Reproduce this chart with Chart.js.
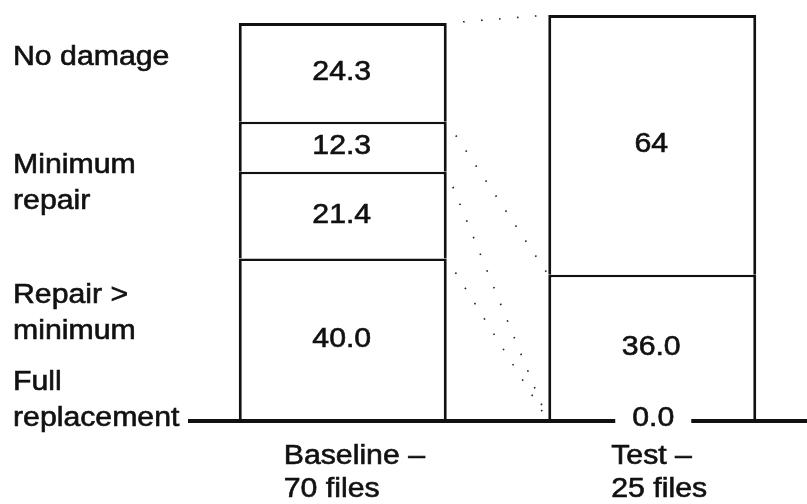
<!DOCTYPE html>
<html>
<head>
<meta charset="utf-8">
<script src="https://cdn.jsdelivr.net/npm/chart.js@4/dist/chart.umd.min.js"></script>
<style>
  html, body { margin: 0; padding: 0; background: #fff; }
  canvas { display: block; }
</style>
</head>
<body>
<canvas id="c" width="807" height="504"></canvas>
<script>
// Two claim-file groups, each split by damage outcome (percent of files)
const groups = [['Baseline –', '70 files'], ['Test –', '25 files']];
const outcomeNames = [['Full', 'replacement'], ['Repair >', 'minimum'], ['Minimum', 'repair'], ['No damage']];

// Stack order, bottom to top
const fullReplacement   = [40.0, 0.0];
const repairOverMinimum = [21.4, null];
const minimumRepair     = [12.3, 36.0];
const noDamage          = [24.3, 64];

// Decimal places printed in each segment's value label
const printedDecimals = [[1, 1], [1, null], [1, 1], [1, 0]];

const series = [fullReplacement, repairOverMinimum, minimumRepair, noDamage];

// Where each outcome name's first line sits, in percent on the value axis
const nameAnchors = [7.6, 29.1, 61.1, 87.7];
const NAME_LINE = 36;
const FONT = '27px "Liberation Sans", Arial, Helvetica, sans-serif';
const STRETCH = 1.12;
const INK = '#111';

function stretchedText(ctx, text, x, y, align, baseline) {
  ctx.save();
  ctx.translate(x, y);
  ctx.scale(STRETCH, 1);
  ctx.font = FONT;
  ctx.fillStyle = INK;
  ctx.strokeStyle = INK;
  ctx.lineWidth = 0.6;
  ctx.textAlign = align;
  ctx.textBaseline = baseline;
  ctx.fillText(text, 0, 0);
  ctx.strokeText(text, 0, 0);
  ctx.restore();
}

function cumulative(j) {
  const out = [];
  let s = 0;
  for (const arr of series) { s += (arr[j] || 0); out.push(s); }
  return out;
}

const annotate = {
  id: 'annotate',
  afterDatasetsDraw(chart) {
    const ctx = chart.ctx;
    const ys = chart.scales.y;
    const xs = chart.scales.x;
    const area = chart.chartArea;
    const y0 = ys.getPixelForValue(0);

    // ground line
    ctx.save();
    ctx.strokeStyle = INK;
    ctx.lineWidth = 4;
    ctx.beginPath();
    ctx.moveTo(area.left, y0);
    ctx.lineTo(area.right, y0);
    ctx.stroke();
    ctx.restore();

    // dotted connectors between matching segment boundaries
    const leftBar = chart.getDatasetMeta(0).data[0];
    const rightBar = chart.getDatasetMeta(0).data[1];
    const xa = leftBar.x + leftBar.width / 2;
    const xb = rightBar.x - rightBar.width / 2;
    const ca = cumulative(0), cb = cumulative(1);
    ctx.save();
    ctx.strokeStyle = '#222';
    ctx.lineWidth = 1.6;
    ctx.setLineDash([1.6, 16.4]);
    ctx.lineDashOffset = 1.6;
    for (let k = 0; k < series.length; k++) {
      ctx.beginPath();
      ctx.moveTo(xa, ys.getPixelForValue(ca[k]));
      ctx.lineTo(xb, ys.getPixelForValue(cb[k]));
      ctx.stroke();
    }
    ctx.restore();

    // segment value labels
    series.forEach((arr, k) => {
      const meta = chart.getDatasetMeta(k);
      arr.forEach((v, j) => {
        if (v === null) return;
        const el = meta.data[j];
        const txt = v.toFixed(printedDecimals[k][j]);
        if (v === 0) {
          ctx.save();
          ctx.fillStyle = '#fff';
          ctx.fillRect(el.x - 37, y0 - 8, 76, 16);
          ctx.restore();
          stretchedText(ctx, txt, el.x + 1, y0 - 2, 'center', 'middle');
        } else {
          stretchedText(ctx, txt, el.x - 1, (el.y + el.base) / 2, 'center', 'middle');
        }
      });
    });

    // outcome names on the left
    outcomeNames.forEach((lines, k) => {
      const yb = ys.getPixelForValue(nameAnchors[k]);
      lines.forEach((t, i) => stretchedText(ctx, t, 13, yb + i * NAME_LINE, 'left', 'alphabetic'));
    });

    // group names under the bars
    const shifts = [-59, -41];
    groups.forEach((lines, j) => {
      const gx = xs.getPixelForValue(j) + shifts[j];
      lines.forEach((t, i) => stretchedText(ctx, t, gx, y0 + 43 + i * 33, 'left', 'alphabetic'));
    });
  }
};

// each segment carries the divider above it; the base segment also closes the bottom
function edgesFor(k) {
  return { top: k === series.length - 1 ? 3 : 2.5, bottom: k === 0 ? 2 : 0, left: 3, right: 3 };
}
const names = ['Full replacement', 'Repair > minimum', 'Minimum repair', 'No damage'];

new Chart(document.getElementById('c'), {
  type: 'bar',
  data: {
    labels: groups,
    datasets: series.map((arr, k) => ({
      label: names[k],
      data: arr,
      backgroundColor: '#fff',
      borderColor: INK,
      borderWidth: edgesFor(k),
      borderSkipped: false,
      barPercentage: 0.672,
      categoryPercentage: 1
    }))
  },
  options: {
    responsive: false,
    devicePixelRatio: 1,
    animation: false,
    layout: { padding: { left: 188, right: 0, top: 15, bottom: 83 } },
    plugins: { legend: { display: false }, tooltip: { enabled: false } },
    scales: {
      x: { stacked: true, display: false },
      y: { stacked: true, display: false, min: 0, max: 100 }
    }
  },
  plugins: [annotate]
});
</script>
</body>
</html>
